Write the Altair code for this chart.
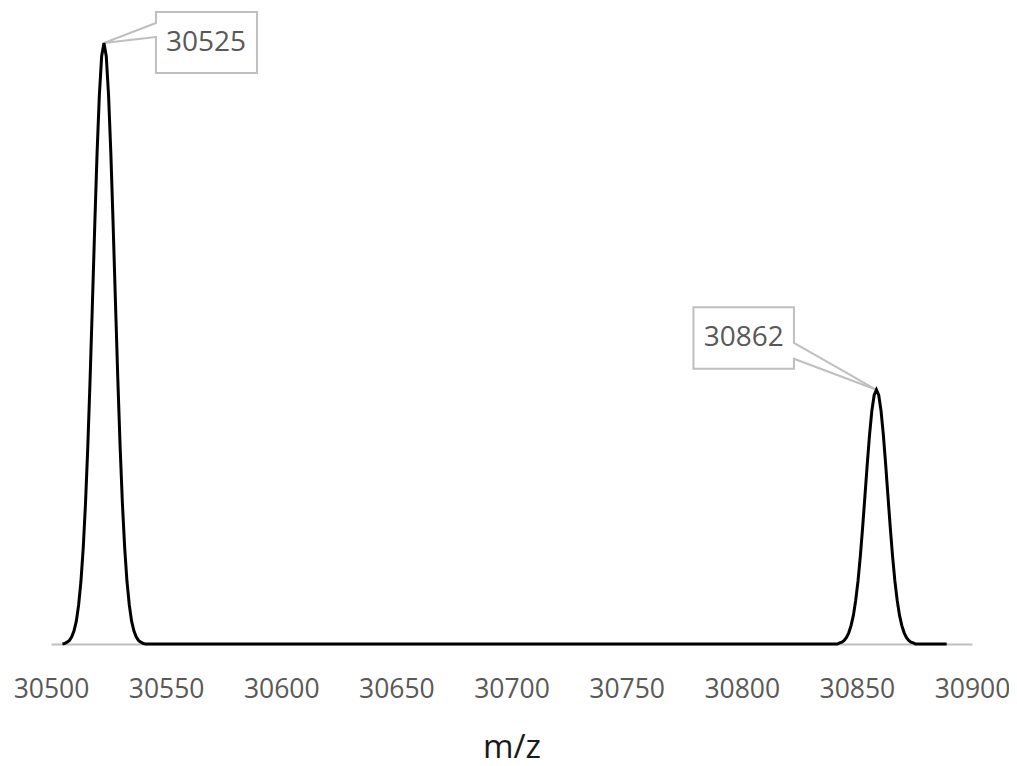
import altair as alt
import pandas as pd

# ---- data ----
mz_peak1 = [30505, 30506, 30507, 30508, 30509, 30510, 30511, 30512, 30513, 30514,
            30515, 30516, 30517, 30518, 30519, 30520, 30521, 30522, 30523, 30524,
            30525, 30526, 30527, 30528, 30529, 30530, 30531, 30532, 30533, 30534,
            30535, 30536, 30537, 30538, 30539, 30540, 30541]
int_peak1 = [0, 0.1, 0.3, 0.6, 1.2, 2.2, 3.8, 6.5, 10.4, 16.0,
             23.5, 33.0, 44.3, 56.8, 69.6, 81.6, 91.3, 97.8, 100, 97.8,
             91.3, 81.6, 69.6, 56.8, 44.3, 33.0, 23.5, 16.0, 10.4, 6.5,
             3.8, 2.2, 1.2, 0.6, 0.3, 0.1, 0]

mz_peak2 = [30841.5, 30842.5, 30843.5, 30844.5, 30845.5, 30846.5, 30847.5, 30848.5,
            30849.5, 30850.5, 30851.5, 30852.5, 30853.5, 30854.5, 30855.5, 30856.5,
            30857.5, 30858.5, 30859.5, 30860.5, 30861.5, 30862.5, 30863.5, 30864.5,
            30865.5, 30866.5, 30867.5, 30868.5, 30869.5, 30870.5, 30871.5, 30872.5,
            30873.5, 30874.5, 30875.5]
int_peak2 = [0, 0.2, 0.3, 0.6, 1.1, 1.9, 3.1, 4.8,
             7.3, 10.5, 14.6, 19.4, 24.6, 29.9, 34.8, 38.8,
             41.4, 42.3, 41.4, 38.8, 34.8, 29.9, 24.6, 19.4,
             14.6, 10.5, 7.3, 4.8, 3.1, 1.9, 1.1, 0.6,
             0.3, 0.2, 0]

mz_tail = [30889]
int_tail = [0]

tick_values = [30500, 30550, 30600, 30650, 30700, 30750, 30800, 30850, 30900]

label_mz = [30523, 30858.5]
label_int = [100, 42.3]
label_text = ["30525", "30862"]

# ---- build tables ----
trace = pd.DataFrame({
    "mz": mz_peak1 + mz_peak2 + mz_tail,
    "intensity": int_peak1 + int_peak2 + int_tail,
})
lab1 = pd.DataFrame({"mz": [label_mz[0]], "intensity": [label_int[0]], "lbl": [label_text[0]]})
lab2 = pd.DataFrame({"mz": [label_mz[1]], "intensity": [label_int[1]], "lbl": [label_text[1]]})

FONT = "Open Sans"
GRID_GRAY = "#BFBFBF"
TEXT_GRAY = "#595959"

x_axis = alt.Axis(values=tick_values, format="d", grid=False, ticks=False,
                  domainColor=GRID_GRAY, domainWidth=2,
                  labelFont=FONT, labelFontSize=26.5, labelColor=TEXT_GRAY,
                  labelPadding=32, labelFlush=False, labelOverlap=False,
                  title="m/z", titleFont=FONT, titleFontSize=33,
                  titleFontWeight="normal", titleColor="#1a1a1a",
                  titleX=460.5, titleY=113, titleBaseline="alphabetic",
                  titleAlign="center")
x_scale = alt.Scale(domain=[30500, 30900], nice=False, zero=False)
y_scale = alt.Scale(domain=[0, 100], nice=False)

x_enc = alt.X("mz:Q", scale=x_scale, axis=x_axis)
y_enc = alt.Y("intensity:Q", scale=y_scale, axis=None)

line = alt.Chart(trace).mark_line(color="black", strokeWidth=3).encode(x=x_enc, y=y_enc)


def callout(df, bx0, bx1, by0, by1, ax, ay0, ay1, tdx, tdy):
    """Callout box with a wedge pointing to the labelled peak (offsets in pixels)."""
    enc = dict(x=x_enc, x2=alt.X2("mz"), y=y_enc, y2=alt.Y2("intensity"))
    box = alt.Chart(df).mark_rect(fill="white", stroke=GRID_GRAY, strokeWidth=2,
                                  xOffset=bx0, x2Offset=bx1, yOffset=by0, y2Offset=by1
                                  ).encode(**enc)
    gap = alt.Chart(df).mark_rule(color="white", strokeWidth=3,
                                  xOffset=ax, x2Offset=ax, yOffset=ay0 + 1, y2Offset=ay1 - 1
                                  ).encode(**enc)
    w1 = alt.Chart(df).mark_rule(color=GRID_GRAY, strokeWidth=2,
                                 x2Offset=ax, y2Offset=ay0).encode(**enc)
    w2 = alt.Chart(df).mark_rule(color=GRID_GRAY, strokeWidth=2,
                                 x2Offset=ax, y2Offset=ay1).encode(**enc)
    txt = alt.Chart(df).mark_text(dx=tdx, dy=tdy, font=FONT, fontSize=28, color=TEXT_GRAY,
                                  align="center", baseline="middle").encode(
        x=x_enc, y=y_enc, text=alt.Text("lbl:N"))
    return [box, gap, w1, w2, txt]


c1 = callout(lab1, 52, 153, -31, 30, 52, -20, -6, 102, -0.5)
c2 = callout(lab2, -183, -82.5, -82.5, -21, -82.5, -47, -31, -132.75, -51.75)

chart = alt.layer(*c1, *c2, line).properties(
    width=921, height=601,
    autosize=alt.AutoSizeParams(type="none"),
    padding={"left": 43, "top": 35, "right": 37, "bottom": 122},
).configure_view(stroke=None)

chart.save("out.html", embed_options={"renderer": "svg", "actions": False})
